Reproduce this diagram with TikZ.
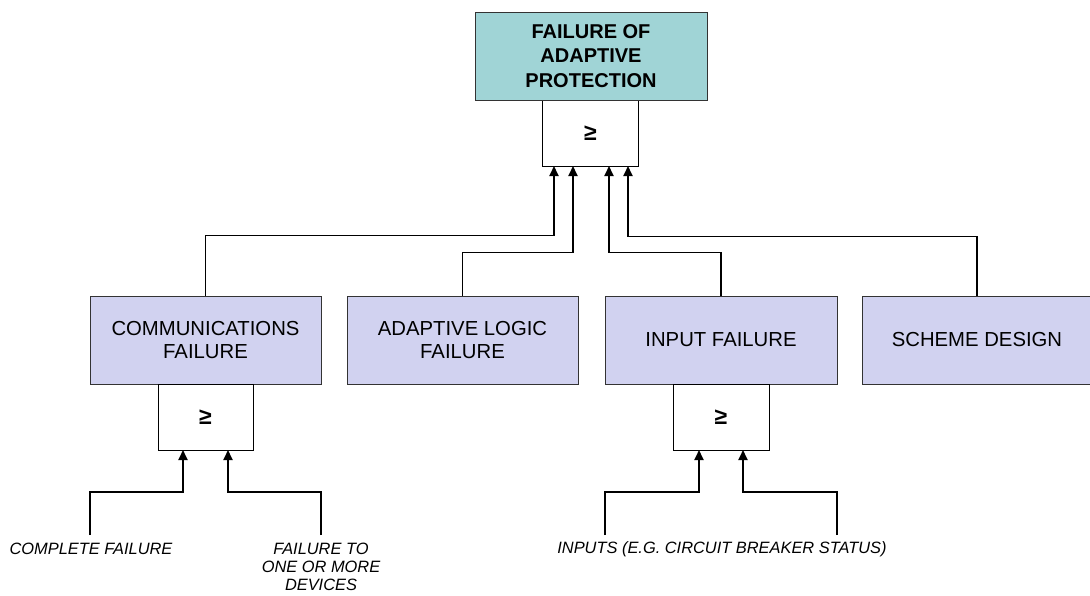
\documentclass[tikz,border=0pt]{standalone}
\usepackage{fontspec}
\setmainfont{Liberation Sans}
\usetikzlibrary{arrows.meta}
\definecolor{topfill}{RGB}{160,212,214}
\definecolor{boxfill}{RGB}{209,210,240}
\begin{document}
\begin{tikzpicture}[x=1pt,y=-1pt,
  event/.style={draw=black!80, line width=1pt, fill=boxfill,
    minimum width=231pt, minimum height=88pt, inner sep=0pt, align=center,
    font=\fontsize{20.3}{23.5}\selectfont},
  topevent/.style={event, fill=topfill, minimum width=232pt,
    font=\bfseries\fontsize{20}{24.5}\selectfont},
  orgate/.style={draw=black, line width=0.9pt, fill=white,
    minimum width=96pt, minimum height=66pt, inner sep=0pt,
    font=\bfseries\fontsize{23}{24}\selectfont},
  wire/.style={line width=1.9pt, -{Triangle[width=9pt,length=10pt]}},
  basic/.style={inner sep=0pt, align=center,
    font=\itshape\fontsize{16.4}{18}\selectfont}
]
\useasboundingbox (0,0) rectangle (1090,595);

% top event and its OR gate
\node[orgate] (tg) at (590.5,133) {≥};
\node[topevent] (top) at (591,56) {FAILURE OF\\ADAPTIVE\\PROTECTION};

% intermediate events
\node[event] (comm) at (205.5,340) {COMMUNICATIONS\\FAILURE};
\node[event] (adapt) at (462.5,340) {ADAPTIVE LOGIC\\FAILURE};
\node[event, minimum width=232pt] (input) at (721,340) {INPUT FAILURE};
\node[event, minimum width=230pt] (scheme) at (977,340) {SCHEME DESIGN};

% lower OR gates
\node[orgate, minimum width=95pt] (cg) at (205.5,417) {≥};
\node[orgate] (ig) at (721,417) {≥};

% basic events
\node[basic] (cf) at (91,549) {COMPLETE FAILURE};
\node[basic] (fd) at (321,567) {FAILURE TO\\ONE OR MORE\\DEVICES};
\node[basic] (inp) at (722,549) {INPUTS (E.G. CIRCUIT BREAKER STATUS)};

% gate input points
\coordinate (tg1) at (554,166);
\coordinate (tg2) at (573,166);
\coordinate (tg3) at (609,166);
\coordinate (tg4) at (628,166);
\coordinate (cg1) at (183,450);
\coordinate (cg2) at (228,450);
\coordinate (ig1) at (699,450);
\coordinate (ig2) at (743,450);

% lead ends above the basic event labels
\coordinate (s1) at (90,535);
\coordinate (s2) at (321,535);
\coordinate (s3) at (605,535);
\coordinate (s4) at (837,535);

% connectors into the top gate
\draw[wire] (comm.north) -- ++(0,-60) -| (tg1);
\draw[wire] (adapt.north) -- ++(0,-43) -| (tg2);
\draw[wire] (input.north) -- ++(0,-43) -| (tg3);
\draw[wire] (scheme.north) -- ++(0,-59) -| (tg4);

% connectors into the lower gates
\draw[wire] (s1) -- ++(0,-43) -| (cg1);
\draw[wire] (s2) -- ++(0,-43) -| (cg2);
\draw[wire] (s3) -- ++(0,-43) -| (ig1);
\draw[wire] (s4) -- ++(0,-43) -| (ig2);
\end{tikzpicture}
\end{document}
